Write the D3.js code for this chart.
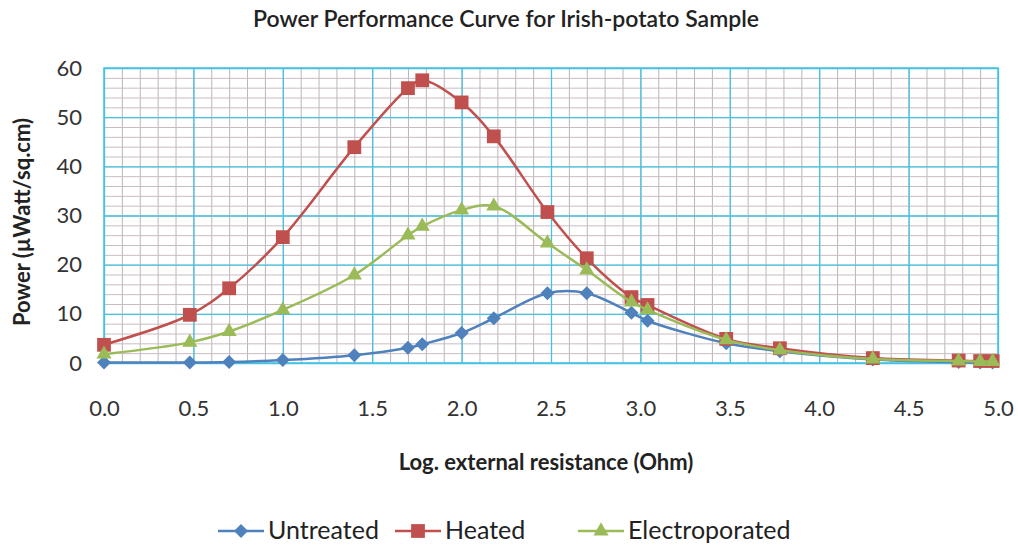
<!DOCTYPE html>
<html>
<head>
<meta charset="utf-8">
<script src="https://cdn.jsdelivr.net/npm/d3@7"></script>
<style>
  body { margin: 0; background: #fff; }
  text { font-family: Lato, "Open Sans", sans-serif; fill: #222; }
</style>
</head>
<body>
<div id="chart"></div>
<script>
// Log of external resistance (x) shared by all series
var logR = [0, 0.48, 0.70, 1.0, 1.40, 1.70, 1.78, 2.0, 2.18, 2.48, 2.70, 2.95, 3.04, 3.48, 3.78, 4.30, 4.78, 4.90, 4.97];

var untreated = [0.1, 0.1, 0.2, 0.6, 1.6, 3.1, 3.8, 6.1, 9.1, 14.2, 14.2, 10.2, 8.6, 4.0, 2.4, 0.7, 0.2, 0.1, 0.1];
var heated = [3.7, 9.8, 15.2, 25.6, 43.9, 55.9, 57.5, 53.0, 46.1, 30.7, 21.3, 13.4, 11.8, 4.9, 3.0, 1.0, 0.5, 0.4, 0.4];
var electroporated = [1.8, 4.2, 6.4, 10.8, 17.9, 26.0, 27.8, 31.1, 31.9, 24.4, 18.9, 12.4, 10.8, 4.7, 2.6, 0.8, 0.4, 0.3, 0.3];

var xTicks = [0, 0.5, 1.0, 1.5, 2.0, 2.5, 3.0, 3.5, 4.0, 4.5, 5.0];
var yTicks = [0, 10, 20, 30, 40, 50, 60];

var series = [
  { name: "Untreated", values: untreated, color: "#4F81BD", marker: "diamond" },
  { name: "Heated", values: heated, color: "#C0504D", marker: "square" },
  { name: "Electroporated", values: electroporated, color: "#9BBB59", marker: "triangle" }
];

var svgWidth = 1018, svgHeight = 548;
var margin = { top: 68, right: 20, bottom: 185, left: 104 };
var chartWidth = 998 - margin.left;
var chartHeight = 363 - margin.top;

var svg = d3.select("#chart").append("svg")
  .attr("width", svgWidth)
  .attr("height", svgHeight);

var chartGroup = svg.append("g")
  .attr("transform", `translate(${margin.left}, ${margin.top})`);

var x = d3.scaleLinear().domain([0, 5]).range([0, chartWidth]);
var y = d3.scaleLinear().domain([0, 60]).range([chartHeight, 0]);

// minor grid
chartGroup.append("g")
  .attr("transform", `translate(0, ${chartHeight})`)
  .call(d3.axisBottom(x).tickValues(d3.range(0, 5.01, 0.1)).tickSize(-chartHeight).tickFormat(""))
  .call(g => g.select(".domain").remove())
  .call(g => g.selectAll("line").attr("stroke", "#bcb4ba").attr("stroke-width", 1));

chartGroup.append("g")
  .call(d3.axisLeft(y).tickValues(d3.range(0, 60.1, 2)).tickSize(-chartWidth).tickFormat(""))
  .call(g => g.select(".domain").remove())
  .call(g => g.selectAll("line").attr("stroke", "#c8bcc3").attr("stroke-width", 1));

// major grid
chartGroup.append("g")
  .attr("transform", `translate(0, ${chartHeight})`)
  .call(d3.axisBottom(x).tickValues(xTicks).tickSize(-chartHeight).tickFormat(""))
  .call(g => g.select(".domain").remove())
  .call(g => g.selectAll("line").attr("stroke", "#45c1e2").attr("stroke-width", 1.3));

chartGroup.append("g")
  .call(d3.axisLeft(y).tickValues(yTicks).tickSize(-chartWidth).tickFormat(""))
  .call(g => g.select(".domain").remove())
  .call(g => g.selectAll("line").attr("stroke", "#45c1e2").attr("stroke-width", 1.3));

chartGroup.append("rect")
  .attr("width", chartWidth)
  .attr("height", chartHeight)
  .attr("fill", "none")
  .attr("stroke", "#45c1e2")
  .attr("stroke-width", 1.5);

// axis labels
chartGroup.append("g")
  .attr("transform", `translate(0, ${chartHeight})`)
  .call(d3.axisBottom(x).tickValues(xTicks).tickSize(0).tickPadding(37).tickFormat(d3.format(".1f")))
  .call(g => g.select(".domain").remove())
  .call(g => g.selectAll("text").attr("font-size", 22).style("fill", "#333"));

chartGroup.append("g")
  .call(d3.axisLeft(y).tickValues(yTicks).tickSize(0).tickPadding(22))
  .call(g => g.select(".domain").remove())
  .call(g => g.selectAll("text").attr("font-size", 22).style("fill", "#333"));

// lines
var line = d3.line()
  .x(d => x(d[0]))
  .y(d => y(d[1]))
  .curve(d3.curveCatmullRom.alpha(0.5));

function markerPath(type) {
  if (type === "diamond") return "M0,-7L7,0L0,7L-7,0Z";
  if (type === "square") return d3.symbol(d3.symbolSquare, 190)();
  return d3.symbol(d3.symbolTriangle, 100)();
}

series.forEach(function(s) {
  var pts = logR.map((v, i) => [v, s.values[i]]);
  chartGroup.append("path")
    .datum(pts)
    .attr("d", line)
    .attr("fill", "none")
    .attr("stroke", s.color)
    .attr("stroke-width", 2.5);
  chartGroup.append("g").selectAll("path")
    .data(pts)
    .enter()
    .append("path")
    .attr("transform", d => `translate(${x(d[0])}, ${y(d[1])})`)
    .attr("d", markerPath(s.marker))
    .attr("fill", s.color);
});

// title
svg.append("text")
  .attr("x", 506)
  .attr("y", 27)
  .attr("text-anchor", "middle")
  .attr("font-size", 23)
  .attr("font-weight", 600)
  .text("Power Performance Curve for Irish-potato Sample");

svg.append("text")
  .attr("x", 546)
  .attr("y", 470)
  .attr("text-anchor", "middle")
  .attr("font-size", 22)
  .attr("font-weight", "bold")
  .text("Log.  external resistance (Ohm)");

svg.append("text")
  .attr("transform", "translate(30, 222) rotate(-90)")
  .attr("text-anchor", "middle")
  .attr("font-size", 22)
  .attr("font-weight", "bold")
  .text("Power (µWatt/sq.cm)");

// legend
var legendX = [218, 395, 578];
var legend = svg.append("g");
series.forEach(function(s, i) {
  var g = legend.append("g").attr("transform", `translate(${legendX[i]}, 531)`);
  g.append("line").attr("x1", 0).attr("x2", 46).attr("stroke", s.color).attr("stroke-width", 2.5);
  g.append("path").attr("transform", "translate(23, 0)").attr("d", markerPath(s.marker)).attr("fill", s.color);
  g.append("text").attr("x", 50).attr("y", 8).attr("font-size", 25).text(s.name);
});
</script>
</body>
</html>
